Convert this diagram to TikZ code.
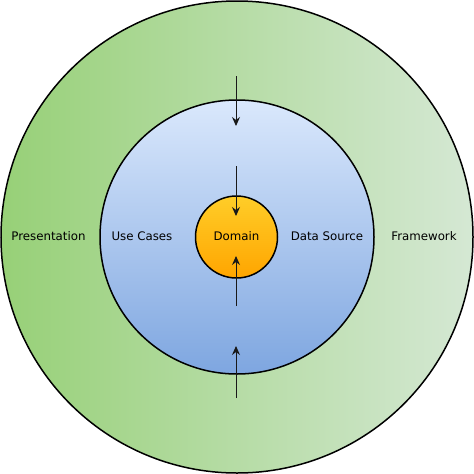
\documentclass[tikz,border=0pt]{standalone}
\usepackage{fontspec}
\setmainfont{DejaVu Sans}
\usetikzlibrary{arrows.meta}
\definecolor{gL}{HTML}{97D077}
\definecolor{gR}{HTML}{D5E8D4}
\definecolor{bT}{HTML}{DAE8FC}
\definecolor{bB}{HTML}{7EA6E0}
\definecolor{oT}{HTML}{FFCD28}
\definecolor{oB}{HTML}{FFA500}
\tikzset{
  ring/.style={circle, draw=black, line width=1.5pt, inner sep=0pt},
  lbl/.style={font=\fontsize{11.8}{14}\selectfont, text=black},
  dep/.style={-{Stealth[length=9pt,width=8pt,inset=3pt]}, line width=0.9pt, draw=black!90}
}
\begin{document}
\begin{tikzpicture}[x=1pt,y=-1pt]
\useasboundingbox (0,0) rectangle (474,474);
\node[ring, minimum size=472pt, left color=gL, right color=gR] (outer) at (237,237) {};
\node[ring, minimum size=274pt, top color=bT, bottom color=bB] (mid) at (237,237) {};
\node[ring, minimum size=82pt, top color=oT, bottom color=oB] (core) at (236.5,237) {};
\node[lbl] (pres) at (48.5,236) {Presentation};
\node[lbl] (uc) at (142,236) {Use Cases};
\node[lbl] (dom) at (236.5,236) {Domain};
\node[lbl] (ds) at (327,236) {Data Source};
\node[lbl] (fw) at (424,236) {Framework};
\coordinate (a1s) at (236,76);
\coordinate (a1e) at (236,126);
\coordinate (a2s) at (236,166);
\coordinate (a2e) at (236,216);
\coordinate (a3s) at (236,398);
\coordinate (a3e) at (236,346);
\coordinate (a4s) at (236,306);
\coordinate (a4e) at (236,256);
\draw[dep] (a1s) -- (a1e);
\draw[dep] (a2s) -- (a2e);
\draw[dep] (a3s) -- (a3e);
\draw[dep] (a4s) -- (a4e);
\end{tikzpicture}
\end{document}
